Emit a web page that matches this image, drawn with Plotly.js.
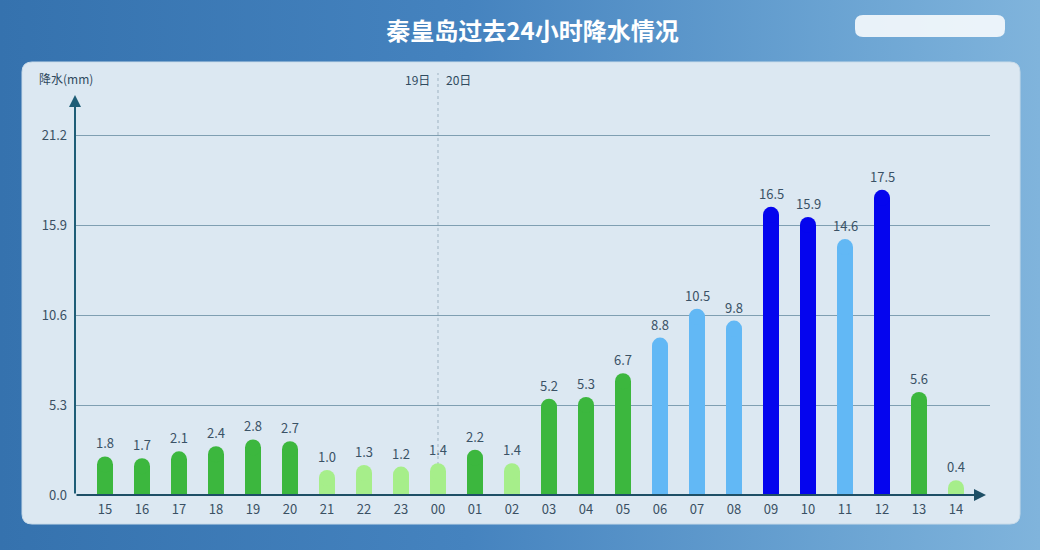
<!DOCTYPE html>
<html><head><meta charset="utf-8">
<script src="https://cdn.plot.ly/plotly-3.0.1.min.js"></script>
<style>
html,body{margin:0;padding:0;width:1040px;height:550px;overflow:hidden;
background:linear-gradient(90deg,#3572ae 0%,#4583bf 45%,#6aa3d2 80%,#80b4dc 100%);}
#chart{width:1040px;height:550px;}
</style></head><body>
<div id="chart"></div>
<script>
const hours = ['15','16','17','18','19','20','21','22','23','00','01','02','03','04','05','06','07','08','09','10','11','12','13','14'];
const rain = [1.8,1.7,2.1,2.4,2.8,2.7,1.0,1.3,1.2,1.4,2.2,1.4,5.2,5.3,6.7,8.8,10.5,9.8,16.5,15.9,14.6,17.5,5.6,0.4];
const barColors = ['#3cb73e','#3cb73e','#3cb73e','#3cb73e','#3cb73e','#3cb73e','#a6ee8a','#a6ee8a','#a6ee8a','#a6ee8a','#3cb73e','#a6ee8a','#3cb73e','#3cb73e','#3cb73e','#62b8f5','#62b8f5','#62b8f5','#0505ee','#0505ee','#62b8f5','#0505ee','#3cb73e','#a6ee8a'];
const yTicks = [0,5.3,10.6,15.9,21.2];
const yTickText = ['0.0','5.3','10.6','15.9','21.2'];
const dayLabels = ['19日','20日'];
const dayBreak = 9;

const L=75, R=990, T=95, B=495, W=R-L, H=B-T;
const px = X => (X-L)/W, py = Y => (B-Y)/H;
const idx = hours.map((h,i)=>i);
const FONT = 'Noto Sans CJK SC, sans-serif';

function roundRect(x0,y0,x1,y1,r){
  const a=px(x0), b=px(x1), top=py(y0), bot=py(y1), rx=r/W, ry=r/H;
  return `M ${a+rx},${top} L ${b-rx},${top} Q ${b},${top} ${b},${top-ry} L ${b},${bot+ry} Q ${b},${bot} ${b-rx},${bot} L ${a+rx},${bot} Q ${a},${bot} ${a},${bot+ry} L ${a},${top-ry} Q ${a},${top} ${a+rx},${top} Z`;
}

const traces = [
  {type:'bar', x:idx, y:rain, width:16/37, marker:{color:barColors, line:{width:0}}, hoverinfo:'skip'},
  {type:'scatter', mode:'markers', x:idx, y:rain, marker:{size:16, color:barColors, line:{width:0}}, hoverinfo:'skip'}
];

const annotations = rain.map((v,i)=>({x:i, y:v, xref:'x', yref:'y', text:v.toFixed(1), showarrow:false,
  yanchor:'bottom', yshift:10, font:{family:FONT, size:13, color:'#3a5266'}}));
annotations.push(
  {x:0, y:1, xref:'paper', yref:'paper', ax:0, ay:H, axref:'pixel', ayref:'pixel', text:'', showarrow:true, arrowhead:2, arrowsize:1.2, arrowwidth:2, arrowcolor:'#1e5d77'},
  {x:px(986), y:0, xref:'paper', yref:'paper', ax:-(986-L), ay:0, text:'', showarrow:true, arrowhead:2, arrowsize:1.2, arrowwidth:2, arrowcolor:'#1e4f66'},
  {x:px(37), y:py(79), xref:'paper', yref:'paper', text:'降水(mm)', showarrow:false, xanchor:'left', yanchor:'middle', font:{family:FONT, size:12, color:'#2f4a5e'}},
  {x:dayBreak, y:py(80), xref:'x', yref:'paper', text:dayLabels[0], showarrow:false, xanchor:'right', xshift:-6, yanchor:'middle', font:{family:FONT, size:12, color:'#2f4a5e'}},
  {x:dayBreak, y:py(80), xref:'x', yref:'paper', text:dayLabels[1], showarrow:false, xanchor:'left', xshift:6, yanchor:'middle', font:{family:FONT, size:12, color:'#2f4a5e'}}
);

const layout = {
  width:1040, height:550,
  margin:{l:L, r:1040-R, t:T, b:550-B, pad:0},
  paper_bgcolor:'rgba(0,0,0,0)', plot_bgcolor:'rgba(0,0,0,0)',
  showlegend:false,
  title:{text:'秦皇岛过去24小时降水情况', x:0.5, xref:'paper', xanchor:'center', y:1-32/550, yanchor:'middle',
    font:{family:FONT, size:24, color:'#ffffff', weight:'bold'}},
  xaxis:{type:'linear', range:[-30/37, (R-105)/37], tickmode:'array', tickvals:idx, ticktext:hours,
    showgrid:false, zeroline:false, showline:false, ticks:'', ticklabelstandoff:5,
    tickfont:{family:FONT, size:13, color:'#3a5063'}, fixedrange:true},
  yaxis:{range:[0, H*5.3/90], tickmode:'array', tickvals:yTicks, ticktext:yTickText,
    showgrid:true, gridcolor:'#7f9fb2', gridwidth:1, zeroline:false, showline:false, ticks:'', ticklabelstandoff:7,
    tickfont:{family:FONT, size:13, color:'#3a5063'}, fixedrange:true},
  shapes:[
    {type:'path', xref:'paper', yref:'paper', path:roundRect(22,62,1020,524,10), fillcolor:'#dce8f2', line:{width:1, color:'#c9dbe9'}, layer:'below'},
    {type:'path', xref:'paper', yref:'paper', path:roundRect(855,15,1005,37,8), fillcolor:'rgba(255,255,255,0.85)', line:{width:0}, layer:'below'},
    {type:'line', xref:'x', yref:'paper', x0:dayBreak, x1:dayBreak, y0:0, y1:py(73), line:{color:'#9fb3c2', width:1, dash:'dot'}, layer:'below'}
  ],
  annotations:annotations,
  bargap:0
};
Plotly.newPlot('chart', traces, layout, {staticPlot:true, displayModeBar:false});
</script>
</body></html>
